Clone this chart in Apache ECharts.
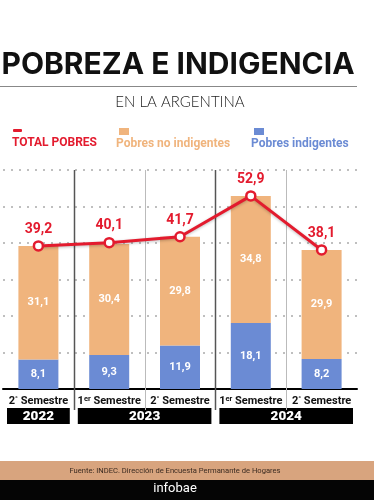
<!DOCTYPE html>
<html><head><meta charset="utf-8">
<script src="https://cdn.jsdelivr.net/npm/echarts@6/dist/echarts.min.js"></script>
<style>html,body{margin:0;padding:0;background:#fff}#c{width:374px;height:500px}</style>
</head><body><div id="c"></div>
<script>
// ---- data ----
const semesters = ['2°', '1er', '2°', '1er', '2°'];
const periodYears = ['2022', '2023', '2023', '2024', '2024'];
const years = ['2022', '2023', '2024'];
const indigentes = [8.1, 9.3, 11.9, 18.1, 8.2];
const noIndigentes = [31.1, 30.4, 29.8, 34.8, 29.9];
const totalPobres = [39.2, 40.1, 41.7, 52.9, 38.1];
const yTicks = [0, 10, 20, 30, 40, 50, 60];

const categories = semesters.map((s, i) => s + '|' + periodYears[i]);
const RED = '#e31b2e', ORANGE = '#f0b47d', BLUE = '#6b8bd4';
const fmt = v => String(v).replace('.', ',');

const chart = echarts.init(document.getElementById('c'));
const option = {
  animation: false,
  backgroundColor: '#fff',
  grid: { left: 3, right: 17, top: 170, height: 219 },
  xAxis: {
    type: 'category', data: categories,
    axisLine: { show: true, lineStyle: { color: '#000', width: 2 } },
    axisTick: { show: false },
    axisLabel: {
      margin: 6, interval: 0,
      formatter: v => {
        const s = v.split('|')[0];
        const n = s.charAt(0), sup = s.slice(1);
        return '{n|' + n + '}{s|' + sup + '}{n| Semestre}';
      },
      rich: {
        n: { fontFamily: 'Roboto', fontWeight: 'bold', fontSize: 11, color: '#111' },
        s: { fontFamily: 'Roboto', fontWeight: 'bold', fontSize: 7.5, color: '#111', padding: [0, 0, 5, 0] }
      }
    }
  },
  yAxis: {
    type: 'value', min: yTicks[0], max: yTicks[yTicks.length - 1], interval: 10,
    axisLine: { show: false }, axisTick: { show: false }, axisLabel: { show: false },
    splitLine: { show: true, lineStyle: { color: '#aaa', type: [2, 6], width: 1.5 } }
  },
  series: [
    {
      name: 'Pobres indigentes', type: 'bar', stack: 't', barWidth: 40,
      data: indigentes, itemStyle: { color: BLUE },
      label: { show: true, position: 'inside', color: '#fff', fontFamily: 'Roboto', fontWeight: 'bold', fontSize: 11, formatter: p => fmt(p.value) }
    },
    {
      name: 'Pobres no indigentes', type: 'bar', stack: 't', barWidth: 40,
      data: noIndigentes, itemStyle: { color: ORANGE },
      label: { show: true, position: 'inside', color: '#fff', fontFamily: 'Roboto', fontWeight: 'bold', fontSize: 11, formatter: p => fmt(p.value) }
    },
    {
      name: 'TOTAL POBRES', type: 'line', data: totalPobres, z: 5,
      lineStyle: { color: RED, width: 3, shadowColor: 'rgba(0,0,0,0.25)', shadowBlur: 3, shadowOffsetY: 1 },
      symbol: 'circle', symbolSize: 9,
      itemStyle: { color: '#fff', borderColor: RED, borderWidth: 2.5 },
      label: { show: true, position: 'top', distance: 4, color: RED, fontFamily: 'Roboto', fontWeight: 'bold', fontSize: 14, formatter: p => fmt(p.value) }
    }
  ]
};
chart.setOption(option);

function txt(x, y, text, fill, font, align) {
  return { type: 'text', x: x, y: y, style: { text: text, fill: fill, font: font, align: align || 'left', verticalAlign: 'middle', textAlign: align || 'left', textVerticalAlign: 'middle' } };
}

// ---- decorations computed from axis scale ----
function build() {
  const g = [];
  const c0 = chart.convertToPixel({ xAxisIndex: 0 }, 0);
  const c1 = chart.convertToPixel({ xAxisIndex: 0 }, 1);
  const bw = c1 - c0;
  const yTop = chart.convertToPixel({ yAxisIndex: 0 }, 60);
  const yBase = chart.convertToPixel({ yAxisIndex: 0 }, 0);
  // separators between periods
  for (let i = 1; i < categories.length; i++) {
    const x = Math.round(chart.convertToPixel({ xAxisIndex: 0 }, i) - bw / 2) + 0.5;
    const dark = periodYears[i] !== periodYears[i - 1];
    g.push({ type: 'line', z: 1, shape: { x1: x, y1: yTop, x2: x, y2: yBase + 21 },
      style: { stroke: dark ? '#555' : '#bbb', lineWidth: dark ? 1.5 : 1 } });
  }
  // year boxes
  years.forEach(y => {
    const idx = periodYears.map((p, i) => p === y ? i : -1).filter(i => i >= 0);
    const l = chart.convertToPixel({ xAxisIndex: 0 }, idx[0]) - bw / 2 + 4;
    const r = chart.convertToPixel({ xAxisIndex: 0 }, idx[idx.length - 1]) + bw / 2 - 4;
    g.push({ type: 'rect', shape: { x: l, y: yBase + 19, width: r - l, height: 16 }, style: { fill: '#000' } });
    g.push(txt((l + r) / 2, yBase + 27.5, y, '#fff', '900 13.5px Roboto', 'center'));
  });
  // title etc.
  g.push(txt(178, 65, 'POBREZA E INDIGENCIA', '#111', 'bold 30px Inter', 'center'));
  g.push({ type: 'line', shape: { x1: 0, y1: 86.5, x2: 357, y2: 86.5 }, style: { stroke: '#888', lineWidth: 1 } });
  g.push(txt(180, 102, 'EN LA ARGENTINA', '#222', '300 15px Lato', 'center'));
  // legend
  g.push({ type: 'rect', shape: { x: 13, y: 129, width: 9, height: 3, r: 1 }, style: { fill: RED } });
  g.push(txt(12, 143, 'TOTAL POBRES', RED, 'bold 12px Roboto'));
  g.push({ type: 'rect', shape: { x: 119, y: 128, width: 10, height: 7 }, style: { fill: ORANGE } });
  g.push(txt(116, 144, 'Pobres no indigentes', ORANGE, 'bold 12px Roboto'));
  g.push({ type: 'rect', shape: { x: 254, y: 128, width: 10, height: 7 }, style: { fill: BLUE } });
  g.push(txt(251, 144, 'Pobres indigentes', BLUE, 'bold 12px Roboto'));
  // footer
  g.push({ type: 'rect', shape: { x: 0, y: 461, width: 374, height: 19 }, style: { fill: '#d8a47e' } });
  g.push(txt(175, 471, 'Fuente: INDEC. Dirección de Encuesta Permanante de Hogares', '#3a2a20', '7.6px Roboto', 'center'));
  g.push({ type: 'rect', shape: { x: 0, y: 480, width: 374, height: 20 }, style: { fill: '#050505' } });
  g.push(txt(175, 489, 'infobae', '#fff', '13px Roboto', 'center'));
  chart.setOption({ graphic: g });
}
build();
</script></body></html>
